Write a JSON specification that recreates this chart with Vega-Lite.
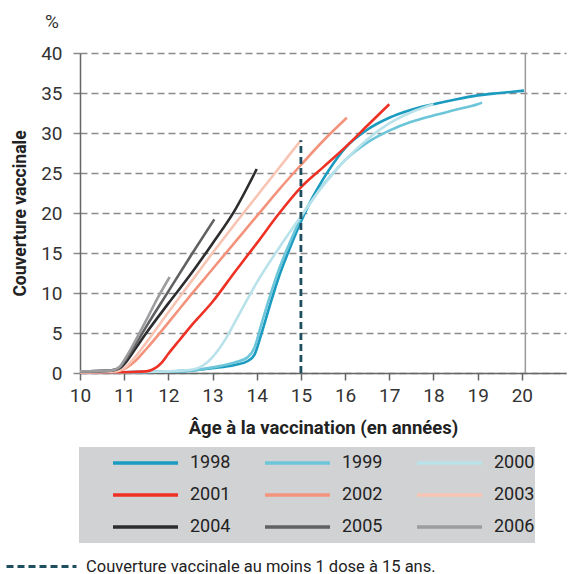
{
  "$schema": "https://vega.github.io/schema/vega-lite/v6.json",
  "autosize": "none",
  "padding": {"left": 80, "top": 53, "right": 9, "bottom": 201},
  "width": 486,
  "height": 320,
  "config": {
    "font": "Roboto",
    "view": {"stroke": null},
    "axis": {"labelFont": "Roboto", "titleFont": "Roboto", "labelColor": "#333333", "titleColor": "#222222"},
    "legend": {"labelFont": "Roboto"}
  },
  "title": {"text": "%", "anchor": "start", "frame": "group", "dx": -35, "offset": 12, "fontSize": 19, "fontWeight": "normal", "color": "#333333", "font": "Roboto"},
  "datasets": {
    "curves": [
      {"year": "1998", "age": 10, "pct": 0.1}, {"year": "1998", "age": 11, "pct": 0.1}, {"year": "1998", "age": 12, "pct": 0.2}, {"year": "1998", "age": 12.5, "pct": 0.3}, {"year": "1998", "age": 13, "pct": 0.6}, {"year": "1998", "age": 13.5, "pct": 1.0}, {"year": "1998", "age": 13.8, "pct": 1.5}, {"year": "1998", "age": 13.95, "pct": 2.3}, {"year": "1998", "age": 14.1, "pct": 4.8}, {"year": "1998", "age": 14.3, "pct": 8.5}, {"year": "1998", "age": 14.5, "pct": 12.0}, {"year": "1998", "age": 14.75, "pct": 15.6}, {"year": "1998", "age": 15, "pct": 18.9}, {"year": "1998", "age": 15.25, "pct": 21.8}, {"year": "1998", "age": 15.5, "pct": 24.2}, {"year": "1998", "age": 15.75, "pct": 26.3}, {"year": "1998", "age": 16, "pct": 28.1}, {"year": "1998", "age": 16.5, "pct": 30.4}, {"year": "1998", "age": 17, "pct": 31.9}, {"year": "1998", "age": 17.5, "pct": 32.9}, {"year": "1998", "age": 18, "pct": 33.6}, {"year": "1998", "age": 18.5, "pct": 34.2}, {"year": "1998", "age": 19, "pct": 34.7}, {"year": "1998", "age": 19.5, "pct": 35.0}, {"year": "1998", "age": 20.05, "pct": 35.3},
      {"year": "1999", "age": 10, "pct": 0.1}, {"year": "1999", "age": 11, "pct": 0.1}, {"year": "1999", "age": 12, "pct": 0.2}, {"year": "1999", "age": 12.5, "pct": 0.3}, {"year": "1999", "age": 13, "pct": 0.7}, {"year": "1999", "age": 13.5, "pct": 1.3}, {"year": "1999", "age": 13.8, "pct": 2.0}, {"year": "1999", "age": 13.95, "pct": 3.2}, {"year": "1999", "age": 14.1, "pct": 6.0}, {"year": "1999", "age": 14.3, "pct": 9.6}, {"year": "1999", "age": 14.5, "pct": 12.9}, {"year": "1999", "age": 14.75, "pct": 16.3}, {"year": "1999", "age": 15, "pct": 19.4}, {"year": "1999", "age": 15.25, "pct": 21.6}, {"year": "1999", "age": 15.5, "pct": 23.5}, {"year": "1999", "age": 15.75, "pct": 25.1}, {"year": "1999", "age": 16, "pct": 26.6}, {"year": "1999", "age": 16.5, "pct": 28.8}, {"year": "1999", "age": 17, "pct": 30.3}, {"year": "1999", "age": 17.5, "pct": 31.4}, {"year": "1999", "age": 18, "pct": 32.2}, {"year": "1999", "age": 18.5, "pct": 32.9}, {"year": "1999", "age": 19, "pct": 33.6}, {"year": "1999", "age": 19.1, "pct": 33.8},
      {"year": "2000", "age": 10, "pct": 0.1}, {"year": "2000", "age": 11, "pct": 0.1}, {"year": "2000", "age": 12, "pct": 0.2}, {"year": "2000", "age": 12.5, "pct": 0.4}, {"year": "2000", "age": 12.8, "pct": 1.0}, {"year": "2000", "age": 13, "pct": 2.0}, {"year": "2000", "age": 13.3, "pct": 4.3}, {"year": "2000", "age": 13.5, "pct": 6.3}, {"year": "2000", "age": 14, "pct": 11.3}, {"year": "2000", "age": 14.5, "pct": 15.6}, {"year": "2000", "age": 15, "pct": 19.6}, {"year": "2000", "age": 15.5, "pct": 23.4}, {"year": "2000", "age": 16, "pct": 26.6}, {"year": "2000", "age": 16.5, "pct": 29.2}, {"year": "2000", "age": 17, "pct": 31.2}, {"year": "2000", "age": 17.5, "pct": 32.6}, {"year": "2000", "age": 18, "pct": 33.6},
      {"year": "2001", "age": 10, "pct": 0.1}, {"year": "2001", "age": 11, "pct": 0.1}, {"year": "2001", "age": 11.5, "pct": 0.2}, {"year": "2001", "age": 11.7, "pct": 0.6}, {"year": "2001", "age": 11.85, "pct": 1.3}, {"year": "2001", "age": 12, "pct": 2.4}, {"year": "2001", "age": 12.25, "pct": 4.1}, {"year": "2001", "age": 12.5, "pct": 5.8}, {"year": "2001", "age": 13, "pct": 8.9}, {"year": "2001", "age": 13.5, "pct": 12.6}, {"year": "2001", "age": 14, "pct": 16.2}, {"year": "2001", "age": 14.5, "pct": 19.9}, {"year": "2001", "age": 15, "pct": 23.2}, {"year": "2001", "age": 15.5, "pct": 25.7}, {"year": "2001", "age": 16, "pct": 28.2}, {"year": "2001", "age": 16.5, "pct": 30.9}, {"year": "2001", "age": 17, "pct": 33.6},
      {"year": "2002", "age": 10, "pct": 0.1}, {"year": "2002", "age": 10.8, "pct": 0.2}, {"year": "2002", "age": 11, "pct": 0.5}, {"year": "2002", "age": 11.25, "pct": 1.5}, {"year": "2002", "age": 11.5, "pct": 3.0}, {"year": "2002", "age": 12, "pct": 6.3}, {"year": "2002", "age": 12.5, "pct": 9.7}, {"year": "2002", "age": 13, "pct": 13.0}, {"year": "2002", "age": 13.5, "pct": 16.3}, {"year": "2002", "age": 14, "pct": 19.6}, {"year": "2002", "age": 14.5, "pct": 22.9}, {"year": "2002", "age": 15, "pct": 26.0}, {"year": "2002", "age": 15.5, "pct": 29.0}, {"year": "2002", "age": 16.04, "pct": 31.9},
      {"year": "2003", "age": 10, "pct": 0.1}, {"year": "2003", "age": 10.8, "pct": 0.2}, {"year": "2003", "age": 11, "pct": 0.6}, {"year": "2003", "age": 11.25, "pct": 2.0}, {"year": "2003", "age": 11.5, "pct": 3.8}, {"year": "2003", "age": 12, "pct": 7.6}, {"year": "2003", "age": 12.5, "pct": 11.3}, {"year": "2003", "age": 13, "pct": 15.0}, {"year": "2003", "age": 13.5, "pct": 18.6}, {"year": "2003", "age": 14, "pct": 22.1}, {"year": "2003", "age": 14.5, "pct": 25.6}, {"year": "2003", "age": 15, "pct": 29.1},
      {"year": "2004", "age": 10, "pct": 0.2}, {"year": "2004", "age": 10.7, "pct": 0.3}, {"year": "2004", "age": 10.9, "pct": 0.6}, {"year": "2004", "age": 11, "pct": 1.1}, {"year": "2004", "age": 11.25, "pct": 3.0}, {"year": "2004", "age": 11.5, "pct": 5.0}, {"year": "2004", "age": 12, "pct": 8.7}, {"year": "2004", "age": 12.5, "pct": 12.3}, {"year": "2004", "age": 13, "pct": 16.2}, {"year": "2004", "age": 13.5, "pct": 20.3}, {"year": "2004", "age": 14, "pct": 25.5},
      {"year": "2005", "age": 10, "pct": 0.2}, {"year": "2005", "age": 10.7, "pct": 0.3}, {"year": "2005", "age": 10.9, "pct": 0.7}, {"year": "2005", "age": 11, "pct": 1.4}, {"year": "2005", "age": 11.25, "pct": 3.5}, {"year": "2005", "age": 11.5, "pct": 5.8}, {"year": "2005", "age": 12, "pct": 10.2}, {"year": "2005", "age": 12.5, "pct": 14.6}, {"year": "2005", "age": 13.04, "pct": 19.2},
      {"year": "2006", "age": 10, "pct": 0.2}, {"year": "2006", "age": 10.7, "pct": 0.3}, {"year": "2006", "age": 10.9, "pct": 0.8}, {"year": "2006", "age": 11, "pct": 1.6}, {"year": "2006", "age": 11.25, "pct": 4.0}, {"year": "2006", "age": 11.5, "pct": 6.6}, {"year": "2006", "age": 11.75, "pct": 9.3}, {"year": "2006", "age": 12.03, "pct": 12.0}
    ],
    "ref": [
      {"age": 15, "from": 0, "to": 29.1, "note": "Couverture vaccinale au moins 1 dose à 15 ans."}
    ],
    "frame": [
      {"age": 20.08, "from": 0, "to": 40}
    ]
  },
  "layer": [
    {
      "data": {"name": "frame"},
      "mark": {"type": "rule", "color": "#9a9a9a", "strokeWidth": 1.5},
      "encoding": {
        "x": {"field": "age", "type": "quantitative", "scale": {"domain": [10, 20.08]},
          "axis": {"values": [10, 11, 12, 13, 14, 15, 16, 17, 18, 19, 20], "tickCount": 15, "title": "Âge à la vaccination (en années)", "titleFontSize": 18.5, "titleFontWeight": "bold", "titlePadding": 13, "labelFontSize": 19, "labelPadding": 6, "tickSize": 7, "tickColor": "#666666", "tickWidth": 1.5, "domainColor": "#666666", "domainWidth": 1.5, "grid": false, "labelFlush": false, "labelOverlap": false}},
        "y": {"field": "from", "type": "quantitative", "scale": {"domain": [0, 40]},
          "axis": {"values": [0, 5, 10, 15, 20, 25, 30, 35, 40], "tickCount": 12, "labelOverlap": false, "title": "Couverture vaccinale", "titleFontSize": 17.5, "titleFontWeight": "bold", "titlePadding": 11, "labelFontSize": 19, "labelPadding": 10, "tickSize": 8, "tickColor": "#8a8a8a", "tickDash": [7, 4], "tickWidth": 1.5, "grid": true, "gridColor": "#8a8a8a", "gridDash": [7, 4], "gridWidth": 1.5, "domainColor": "#666666", "domainWidth": 1.5}},
        "y2": {"field": "to"}
      }
    },
    {
      "data": {"name": "curves"},
      "mark": {"type": "line", "strokeWidth": 2.6, "interpolate": "monotone"},
      "encoding": {
        "x": {"field": "age", "type": "quantitative", "scale": {"domain": [10, 20.08]},
          "axis": {"values": [10, 11, 12, 13, 14, 15, 16, 17, 18, 19, 20], "tickCount": 15, "title": "Âge à la vaccination (en années)", "titleFontSize": 18.5, "titleFontWeight": "bold", "titlePadding": 13, "labelFontSize": 19, "labelPadding": 6, "tickSize": 7, "tickColor": "#666666", "tickWidth": 1.5, "domainColor": "#666666", "domainWidth": 1.5, "grid": false, "labelFlush": false, "labelOverlap": false}},
        "y": {"field": "pct", "type": "quantitative", "scale": {"domain": [0, 40]},
          "axis": {"values": [0, 5, 10, 15, 20, 25, 30, 35, 40], "tickCount": 12, "labelOverlap": false, "title": "Couverture vaccinale", "titleFontSize": 17.5, "titleFontWeight": "bold", "titlePadding": 11, "labelFontSize": 19, "labelPadding": 10, "tickSize": 8, "tickColor": "#8a8a8a", "tickDash": [7, 4], "tickWidth": 1.5, "grid": true, "gridColor": "#8a8a8a", "gridDash": [7, 4], "gridWidth": 1.5, "domainColor": "#666666", "domainWidth": 1.5}},
        "color": {"field": "year", "type": "nominal",
          "scale": {"domain": ["1998", "1999", "2000", "2001", "2002", "2003", "2004", "2005", "2006"], "range": ["#1a9bbf", "#6cc5d8", "#b9e2ea", "#ee3124", "#f4937c", "#f8c4b4", "#2d2d30", "#616164", "#9d9d9f"]},
          "legend": {"title": null, "orient": "none", "legendX": -1, "legendY": 394, "direction": "horizontal", "columns": 3, "fillColor": "#d1d2d4", "padding": 0, "clipHeight": 32, "rowPadding": 0, "columnPadding": -8, "symbolType": "stroke", "symbolSize": 4225, "symbolOffset": 32, "symbolStrokeWidth": 3.5, "labelFontSize": 18, "labelColor": "#222222", "labelOffset": 10, "labelExpr": "indexof(['2000','2003','2006'], datum.label) >= 0 ? datum.label + '\u2003\u2002' : datum.label"}}
      }
    },
    {
      "data": {"name": "ref"},
      "mark": {"type": "rule", "color": "#1f4e5f", "strokeWidth": 2.8},
      "encoding": {
        "x": {"field": "age", "type": "quantitative"},
        "y": {"field": "from", "type": "quantitative"},
        "y2": {"field": "to"},
        "strokeDash": {"field": "note", "type": "nominal", "scale": {"range": [[7, 4]]},
          "legend": {"title": null, "orient": "none", "legendX": -75, "legendY": 477, "padding": 0, "symbolType": "stroke", "symbolSize": 4900, "symbolStrokeColor": "#1f4e5f", "symbolStrokeWidth": 2.8, "labelFontSize": 16.5, "labelColor": "#222222", "labelOffset": 8, "labelLimit": 500}}
      }
    }
  ]
}
